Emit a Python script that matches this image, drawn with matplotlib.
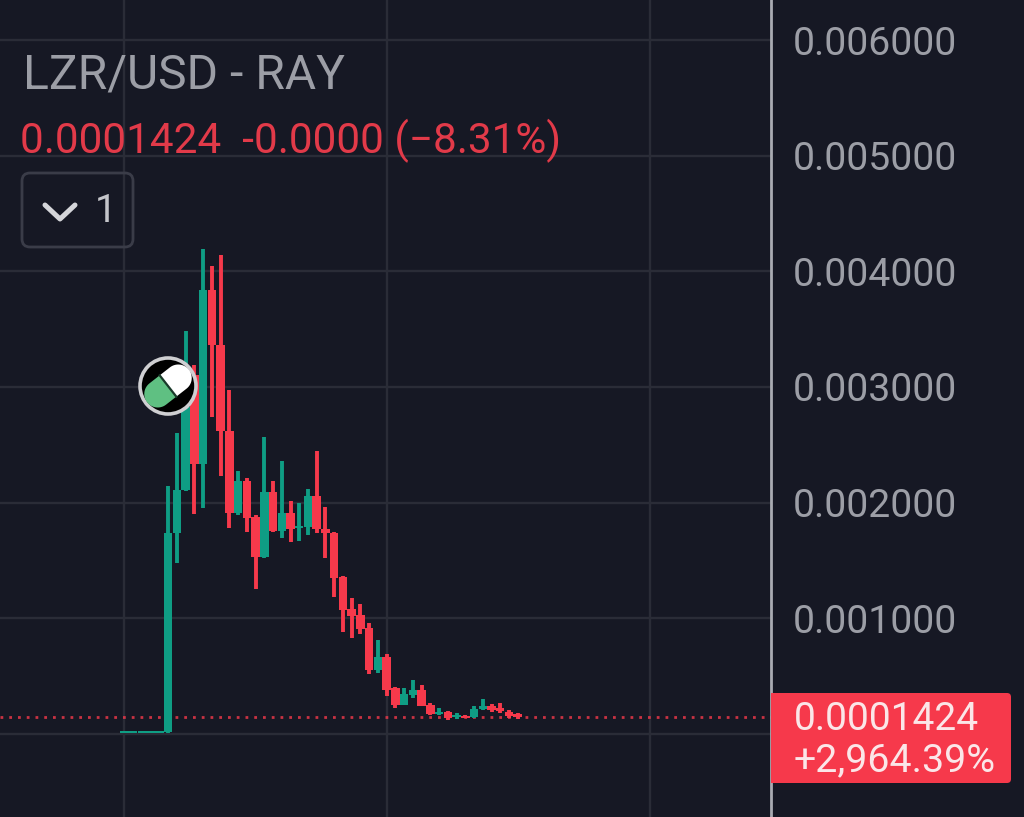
# Third-party library imports
import matplotlib
matplotlib.use("Agg")
import matplotlib.pyplot as plt
import numpy as np
from matplotlib.patches import Circle, FancyBboxPatch, Polygon

# Candle values, in thousandths of a USD
opens = [0.010, 0.010, 0.010, 0.010, 0.010,
         0.020, 1.738, 2.110, 3.100, 2.334, 3.838, 3.360, 2.622, 1.908, 2.190, 1.875,
         1.532, 2.090, 1.755, 1.913, 1.778, 1.790, 2.060, 1.775, 1.740, 1.360, 1.078,
         1.029, 0.919, 0.551, 0.666, 0.395, 0.253, 0.337, 0.378, 0.248, 0.173, 0.190,
         0.144, 0.158, 0.144, 0.216, 0.245, 0.222, 0.193, 0.170]
closes = [0.010, 0.010, 0.010, 0.010, 0.020,
          1.738, 2.110, 2.830, 2.334, 3.838, 3.360, 2.622, 1.908, 2.190, 1.870, 1.532,
          2.092, 1.755, 1.913, 1.775, 1.800, 2.060, 1.770, 1.735, 1.346, 1.072, 1.020,
          0.908, 0.551, 0.666, 0.380, 0.253, 0.346, 0.378, 0.242, 0.170, 0.193, 0.138,
          0.156, 0.141, 0.214, 0.245, 0.205, 0.199, 0.156, 0.1424]
highs = [0.012, 0.012, 0.012, 0.012, 0.022,
         2.144, 2.600, 3.484, 3.190, 4.190, 4.046, 4.139, 2.974, 2.276, 2.215, 1.893,
         2.570, 2.190, 2.360, 2.017, 2.000, 2.120, 2.447, 1.965, 1.750, 1.370, 1.176,
         1.121, 0.957, 0.813, 0.689, 0.409, 0.395, 0.467, 0.424, 0.265, 0.222, 0.199,
         0.179, 0.165, 0.242, 0.305, 0.257, 0.265, 0.210, 0.180]
lows = [0.008, 0.008, 0.008, 0.008, 0.008,
        0.010, 1.480, 2.100, 1.900, 1.954, 2.740, 2.230, 1.783, 1.893, 1.749, 1.254,
        1.520, 1.745, 1.690, 1.662, 1.671, 1.720, 1.735, 1.524, 1.187, 0.884, 0.832,
        0.862, 0.516, 0.525, 0.329, 0.222, 0.250, 0.309, 0.240, 0.165, 0.165, 0.121,
        0.127, 0.135, 0.135, 0.207, 0.190, 0.179, 0.136, 0.130]
price_ticks = [0.000, 0.001, 0.002, 0.003, 0.004, 0.005, 0.006]
price_labels = ["", "0.001000", "0.002000", "0.003000", "0.004000", "0.005000", "0.006000"]
time_ticks = [-5, 25, 55.1]
last_price = 0.0001424

BG = "#161824"
GRID = "#2a2c37"
GREEN = "#0f9d84"
RED = "#f6394b"
TEXT = "#9c9ea6"

plt.rcParams["font.family"] = ["Roboto", "DejaVu Sans"]

fig = plt.figure(figsize=(10.24, 8.17), dpi=100, facecolor=BG)

# Main chart, the price axis sits to the right of x=771
ax = fig.add_axes([0, 0, 771 / 1024, 1], facecolor=BG)
x = np.arange(-5, len(opens) - 5)
o, c, h, l = [np.array(v) / 1000 for v in (opens, closes, highs, lows)]
colors = [GREEN if b >= a else RED for a, b in zip(o, c)]

ax.vlines(x, l, h, colors=colors, linewidth=2.8, zorder=3)
ax.bar(x, np.maximum(np.abs(c - o), 0.000018), bottom=np.minimum(o, c), width=0.97,
       color=colors, linewidth=0, zorder=4)
ax.axhline(last_price, color=RED, linestyle=(0, (1, 2.15)), linewidth=2, alpha=0.8, zorder=2)

ax.set_xlim(-19.24, 68.98)
ax.set_ylim(-0.000718, 0.006346)
ax.set_xticks(time_ticks)
ax.set_yticks(price_ticks)
ax.set_yticklabels(price_labels)
ax.yaxis.tick_right()
ax.tick_params(axis="both", length=0)
ax.tick_params(axis="x", labelbottom=False)
ax.tick_params(axis="y", labelsize=28.2, labelcolor=TEXT, pad=15.5)
ax.grid(True, color=GRID, linewidth=1.7)
ax.set_axisbelow(True)
for side in ("top", "left", "bottom"):
    ax.spines[side].set_visible(False)
ax.spines["right"].set_color("#a9abb2")
ax.spines["right"].set_linewidth(2)

# Overlay in pixel coordinates for legend text, badge and price tag
ov = fig.add_axes([0, 0, 1, 1], facecolor="none")
ov.set_xlim(0, 1024)
ov.set_ylim(817, 0)
ov.axis("off")

ov.text(23, 75, "LZR/USD - RAY", color=TEXT, fontsize=34.6, va="center", ha="left")
ov.text(20, 141, "0.0001424  -0.0000 (\u22128.31%)", color="#e23a49", fontsize=30.4,
        va="center", ha="left")

ov.add_patch(FancyBboxPatch((28, 179), 99, 62, boxstyle="round,pad=6,rounding_size=8",
                            facecolor="none", edgecolor="#3a3c48", linewidth=2))
ov.plot([45, 60, 75], [205, 219, 205], color="#d5d6da", linewidth=3.6,
        solid_capstyle="round", solid_joinstyle="round")
ov.text(106, 211, "1", color="#c4c5ca", fontsize=28, va="center", ha="center")

# Pill badge
cx, cy = 168, 386
ov.add_patch(Circle((cx, cy), 28, facecolor="#000000", edgecolor="#cfcfd2", linewidth=2.6, zorder=6))
ang = np.radians(-38)


def pill_half(sign):
    t = np.linspace(-np.pi / 2, np.pi / 2, 30)
    u = sign * (13 + 13.5 * np.cos(t))
    v = 13.5 * np.sin(t)
    u = np.concatenate([[0], u, [0]])
    v = np.concatenate([[v[0]], v, [v[-1]]])
    return np.column_stack([cx + u * np.cos(ang) - v * np.sin(ang),
                            cy + u * np.sin(ang) + v * np.cos(ang)])


ov.add_patch(Polygon(pill_half(-1), closed=True, facecolor="#5fc082", edgecolor="none", zorder=7))
ov.add_patch(Polygon(pill_half(1), closed=True, facecolor="#ffffff", edgecolor="none", zorder=7))
sep = np.array([-13.5, 13.5])
ov.plot(cx - sep * np.sin(ang), cy + sep * np.cos(ang), color="#1a3a2a", linewidth=1.6, zorder=8)

# Last price tag
ov.add_patch(FancyBboxPatch((775, 697), 232, 82, boxstyle="round,pad=4,rounding_size=4",
                            facecolor=RED, edgecolor="none", zorder=5))
ov.add_patch(plt.Rectangle((771, 693), 10, 90, facecolor=RED, edgecolor="none", zorder=5))
ov.text(794, 720, f"{last_price:.7f}", color="#fbe6e8", fontsize=28, va="center", ha="left", zorder=6)
ov.text(794, 761, "+2,964.39%", color="#fbe6e8", fontsize=28.4, va="center", ha="left", zorder=6)

fig.savefig("out.png", dpi=100, facecolor=BG)
plt.close(fig)
